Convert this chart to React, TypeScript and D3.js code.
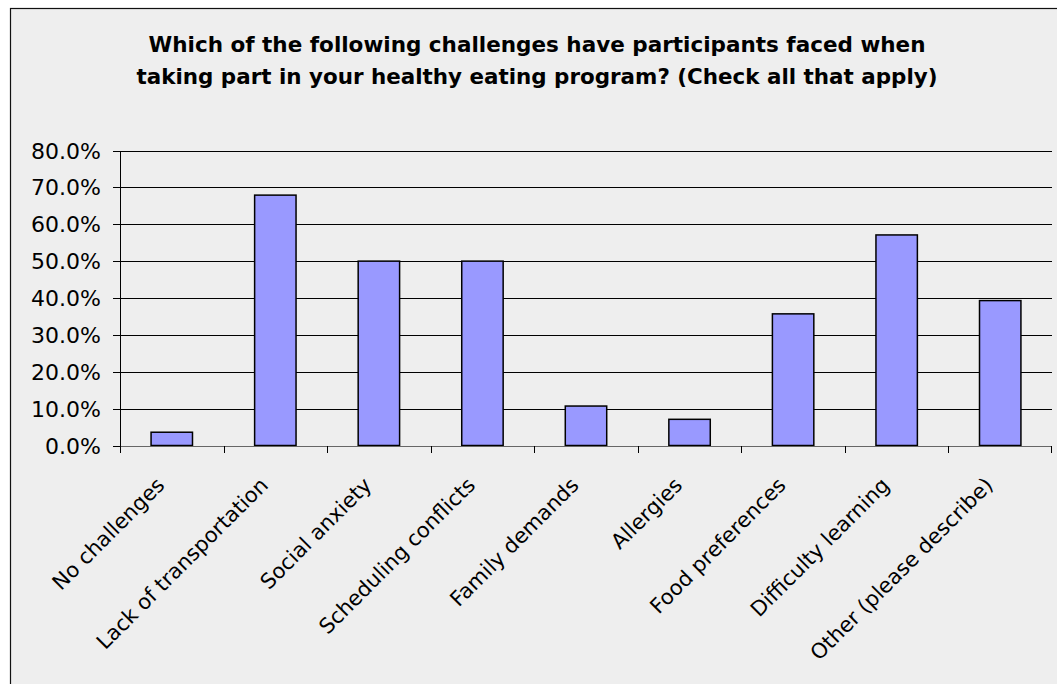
import React from "react";
import * as d3 from "d3";

const categories: string[] = [
  "No challenges",
  "Lack of transportation",
  "Social anxiety",
  "Scheduling conflicts",
  "Family demands",
  "Allergies",
  "Food preferences",
  "Difficulty learning",
  "Other (please describe)",
];

// Share of respondents (%) who selected each challenge
const percentages: number[] = [3.6, 67.9, 50.0, 50.0, 10.7, 7.1, 35.7, 57.1, 39.3];

const yTicks: number[] = [0, 10, 20, 30, 40, 50, 60, 70, 80];

const titleLines: string[] = [
  "Which of the following challenges have participants faced when",
  "taking part in your healthy eating program? (Check all that apply)",
];

const W = 1057;
const H = 684;

export default function App() {
  const plotLeft = 120;
  const plotRight = 1052;
  const plotTop = 150.5;
  const plotBottom = 445.5;

  const x = d3.scaleBand<string>().domain(categories).range([plotLeft, plotRight]);
  const y = d3.scaleLinear().domain([0, 80]).range([plotBottom, plotTop]);
  const bw = x.bandwidth();
  const barW = bw * 0.4;

  const axisFont = "'DejaVu Sans', Verdana, sans-serif";

  return (
    <svg
      width={W}
      height={H}
      style={{ position: "absolute", left: 0, top: 0, display: "block" }}
      xmlns="http://www.w3.org/2000/svg"
    >
      <rect x={0} y={0} width={W} height={H} fill="#ffffff" />
      <rect x={10.5} y={8.5} width={1100} height={700} fill="#eeeeee" stroke="#111" strokeWidth={1.2} />

      {/* Title */}
      <g fontFamily={axisFont} fontWeight="bold" fontSize={20.5} fill="#000" textAnchor="middle">
        {titleLines.map((t, i) => (
          <text key={i} x={537} y={52 + i * 32} textLength={i === 0 ? 777 : 801} lengthAdjust="spacingAndGlyphs">
            {t}
          </text>
        ))}
      </g>

      {/* Gridlines */}
      <g stroke="#000" strokeWidth={1} shapeRendering="crispEdges">
        {yTicks
          .filter((v) => v > 0)
          .map((v) => (
            <line key={v} x1={plotLeft} x2={plotRight} y1={Math.round(y(v)) + 0.5} y2={Math.round(y(v)) + 0.5} />
          ))}
      </g>

      {/* Bars */}
      <g fill="#9999ff" stroke="#000" strokeWidth={1.5}>
        {categories.map((c, i) => {
          const cx = (x(c) as number) + bw / 2;
          const top = y(percentages[i]);
          return (
            <rect key={c} x={cx - barW / 2} y={top} width={barW} height={y(0) - top} />
          );
        })}
      </g>

      {/* Axes */}
      <g stroke="#000" strokeWidth={1} shapeRendering="crispEdges">
        <line x1={plotLeft + 0.5} x2={plotLeft + 0.5} y1={plotTop} y2={plotBottom + 7} />
        <line x1={plotLeft - 7} x2={plotRight} y1={Math.round(y(0)) + 0.5} y2={Math.round(y(0)) + 0.5} stroke="#666" />
        {yTicks.map((v) => (
          <line key={v} x1={plotLeft - 7} x2={plotLeft} y1={Math.round(y(v)) + 0.5} y2={Math.round(y(v)) + 0.5} />
        ))}
        {categories.map((c) => (
          <line key={c} x1={Math.round(x(c) as number) + 0.5} x2={Math.round(x(c) as number) + 0.5} y1={plotBottom} y2={plotBottom + 7} />
        ))}
        <line x1={plotRight - 0.5} x2={plotRight - 0.5} y1={plotBottom} y2={plotBottom + 7} />
      </g>

      {/* Y tick labels */}
      <g fontFamily={axisFont} fontSize={22} fill="#000" textAnchor="end">
        {yTicks.map((v) => (
          <text key={v} x={101} y={y(v) + 8}>
            {d3.format(".1f")(v) + "%"}
          </text>
        ))}
      </g>

      {/* Category labels */}
      <g fontFamily={axisFont} fontSize={21} fill="#000" textAnchor="end">
        {categories.map((c) => {
          const cx = (x(c) as number) + bw / 2;
          return (
            <text key={c} transform={`translate(${cx - 6},${plotBottom + 41}) rotate(-45)`}>
              {c}
            </text>
          );
        })}
      </g>
    </svg>
  );
}
